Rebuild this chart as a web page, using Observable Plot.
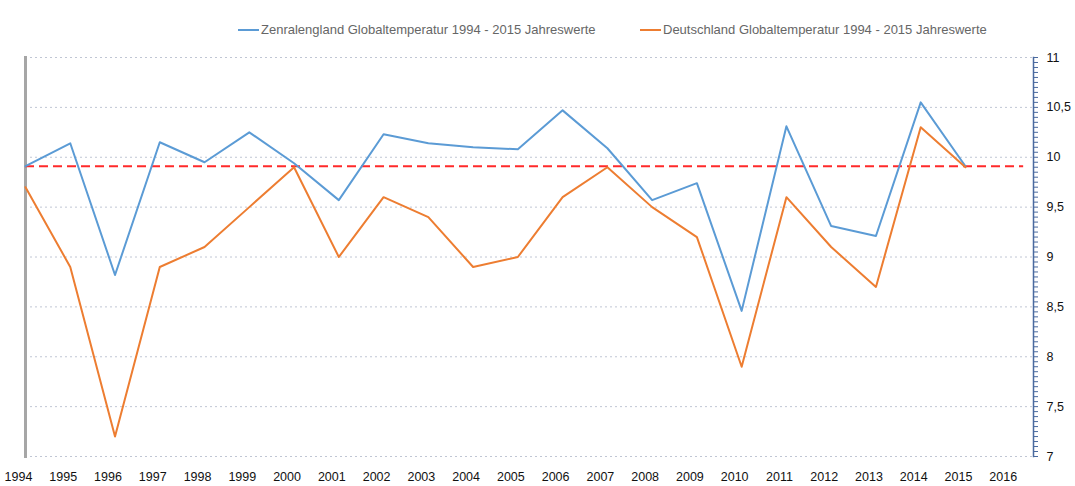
<!DOCTYPE html>
<html>
<head>
<meta charset="utf-8">
<script src="https://cdn.jsdelivr.net/npm/d3@7"></script>
<script src="https://cdn.jsdelivr.net/npm/@observablehq/plot@0.6"></script>
<style>
  body { margin: 0; background: #fff; }
  #legend { position: relative; height: 50px; font-family: "Liberation Sans", Arial, sans-serif; font-size: 13px; color: #666; }
  .item { position: absolute; top: 22px; display: flex; align-items: center; white-space: nowrap; }
  .sw { width: 21px; height: 2px; margin-right: 2px; }
</style>
</head>
<body>
<div id="legend"></div>
<div id="chart"></div>
<script>
const years = d3.range(1994, 2016);
const seriesNames = ["Zenralengland Globaltemperatur 1994 - 2015 Jahreswerte", "Deutschland Globaltemperatur 1994 - 2015 Jahreswerte"];
const seriesColors = ["#5b9bd5", "#ed7d31"];
const englandValues = [9.91, 10.14, 8.82, 10.15, 9.95, 10.25, 9.94, 9.57, 10.23, 10.14, 10.10, 10.08, 10.47, 10.09, 9.57, 9.74, 8.46, 10.31, 9.31, 9.21, 10.55, 9.91];
const germanyValues = [9.7, 8.9, 7.2, 8.9, 9.1, 9.5, 9.9, 9.0, 9.6, 9.4, 8.9, 9.0, 9.6, 9.9, 9.5, 9.2, 7.9, 9.6, 9.1, 8.7, 10.3, 9.9];
const referenceLine = [9.91];
const xTickYears = d3.range(1994, 2017);
const yTickValues = d3.range(7, 11.001, 0.5);
const yMinorTicks = d3.range(7, 11.001, 0.05);

const rows = [
  ...years.map((y, i) => ({year: y, value: englandValues[i], series: seriesNames[0]})),
  ...years.map((y, i) => ({year: y, value: germanyValues[i], series: seriesNames[1]}))
];

const legend = document.getElementById("legend");
const lefts = [238, 640];
seriesNames.forEach((n, i) => {
  const it = document.createElement("div");
  it.className = "item";
  it.style.left = lefts[i] + "px";
  it.innerHTML = `<div class="sw" style="background:${seriesColors[i]}"></div><span>${n}</span>`;
  legend.appendChild(it);
});

const fmt = d => String(+d.toFixed(2)).replace(".", ",");

const chart = Plot.plot({
  width: 1075,
  height: 436,
  marginTop: 7,
  marginBottom: 30,
  marginLeft: 25,
  marginRight: 42,
  style: {fontFamily: "Liberation Sans, Arial, sans-serif", fontSize: "12.5px", color: "#111"},
  x: {domain: [1994, 2016.52], label: null},
  y: {domain: [7, 11], label: null},
  color: {domain: seriesNames, range: seriesColors},
  marks: [
    Plot.gridY(yTickValues, {stroke: "#c0c6d4", strokeOpacity: 1, strokeDasharray: "2,3"}),
    Plot.frame({anchor: "left", stroke: "#a6a6a6", strokeWidth: 3}),
    Plot.axisY({anchor: "right", ticks: yMinorTicks, tickSize: 4, tickFormat: () => "", stroke: "#4a6a9f", label: null}),
    Plot.frame({anchor: "right", stroke: "#4a6a9f", strokeWidth: 1.5}),
    Plot.axisY({anchor: "right", ticks: yTickValues, tickSize: 0, tickPadding: 13, tickFormat: fmt, label: null}),
    Plot.axisX({ticks: xTickYears, tickSize: 0, tickPadding: 16, tickFormat: d => String(d), dx: -7, label: null}),
    Plot.ruleY(referenceLine, {x1: 1994, x2: 2016.3, stroke: "#ff2a2a", strokeWidth: 2, strokeDasharray: "9,5"}),
    Plot.line(rows, {x: "year", y: "value", z: "series", stroke: "series", strokeWidth: 2})
  ]
});
document.getElementById("chart").appendChild(chart);
</script>
</body>
</html>
